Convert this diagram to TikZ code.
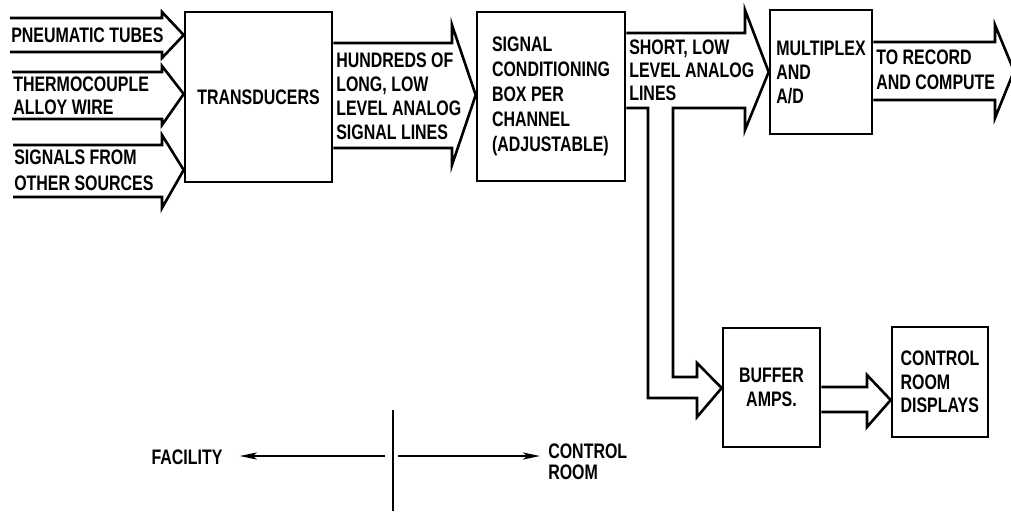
\documentclass[tikz,border=0pt]{standalone}
\usepackage{fontspec}
\setmainfont{Liberation Sans}[FakeStretch=0.76]
\usetikzlibrary{arrows.meta}
\begin{document}
\begin{tikzpicture}[x=1pt,y=-1pt,line width=2.6pt,
  txt/.style={font=\fontsize{21}{24}\selectfont\bfseries},
  box/.style={draw,txt,align=left,inner sep=0pt},
  lbl/.style={txt,align=left,anchor=west,inner sep=0pt},
  arr/.style={-{Stealth[length=17pt,width=7pt,inset=4pt]},line width=2.2pt}]
\useasboundingbox (0,0) rectangle (1011,511);
\clip (0,0) rectangle (1011,511);
% Boxes
\node[box,minimum width=147pt,minimum height=170pt] (trans) at (258.5,97) {TRANSDUCERS};
\node[box,minimum width=148pt,minimum height=169pt,font=\fontsize{21}{25}\selectfont\bfseries] (sig) at (551,96.5) {SIGNAL\\CONDITIONING\\BOX PER\\CHANNEL\\(ADJUSTABLE)};
\node[box,minimum width=102pt,minimum height=124pt] (mux) at (821,72) {MULTIPLEX\\AND\\A/D};
\node[box,minimum width=97pt,minimum height=119pt,align=center] (buf) at (771.5,387.5) {BUFFER\\AMPS.};
\node[box,minimum width=96pt,minimum height=110pt,font=\fontsize{21}{23.5}\selectfont\bfseries] (disp) at (940,382) {CONTROL\\ROOM\\DISPLAYS};
% Input arrows
\draw (10,18) -- (162,18) -- (162,12) -- (trans.west |- 0,35) -- (162,58) -- (162,52) -- (10,52);
\node[lbl] (pneu) at (10,35) {PNEUMATIC TUBES};
\draw (12,72) -- (162,72) -- (162,66) -- (trans.west |- 0,94) -- (162,125) -- (162,119) -- (12,119);
\node[lbl,font=\fontsize{21}{23}\selectfont\bfseries] (thermo) at (12,96) {THERMOCOUPLE\\ALLOY WIRE};
\draw (13,145) -- (162,145) -- (162,135) -- (trans.west |- 0,170) -- (162,208) -- (162,197) -- (13,197);
\node[lbl,font=\fontsize{21}{26}\selectfont\bfseries] (other) at (13,170) {SIGNALS FROM\\OTHER SOURCES};
% Transducers to signal conditioning
\draw (trans.east |- 0,43) -- (452,43) -- (452,25) -- (sig.west |- 0,95) -- (452,165) -- (452,148) -- (trans.east |- 0,148);
\node[lbl] (hund) at (335,96.5) {HUNDREDS OF\\LONG, LOW\\LEVEL ANALOG\\SIGNAL LINES};
% Short lines, with branch to buffer amps
\draw (sig.east |- 0,33) -- (745,33) -- (745,10) -- (mux.west |- 0,72) -- (745,130) -- (745,108)
  -- (673,108) -- (673,377) -- (697,377) -- (697,363) -- (buf.west |- 0,388) -- (697,417) -- (697,398)
  -- (648,398) -- (648,108) -- (sig.east |- 0,108);
\node[lbl,font=\fontsize{21}{23}\selectfont\bfseries] (short) at (628,70) {SHORT, LOW\\LEVEL ANALOG\\LINES};
% To record
\coordinate (rec) at (1014,71);
\draw (mux.east |- 0,42) -- (995,42) -- (995,25) -- (rec) -- (995,118) -- (995,100) -- (mux.east |- 0,100);
\node[lbl,font=\fontsize{21}{25}\selectfont\bfseries] (torec) at (875,69.5) {TO RECORD\\AND COMPUTE};
% Buffer to displays
\draw (buf.east |- 0,387) -- (867,387) -- (867,375) -- (disp.west |- 0,400) -- (867,427) -- (867,412) -- (buf.east |- 0,412);
% Facility / control room divide
\coordinate (divtop) at (393,410);
\coordinate (divbot) at (393,511);
\draw (divtop) -- (divbot);
\coordinate (lineL) at (385,456);
\coordinate (lineR) at (398,456);
\node[txt,inner sep=0pt] (fac) at (187,457) {FACILITY};
\node[lbl,font=\fontsize{21}{21}\selectfont\bfseries] (ctrl) at (547,462) {CONTROL\\ROOM};
\draw[arr,shorten >=16pt] (lineL) -- (fac.east |- lineL);
\draw[arr,shorten >=7pt] (lineR) -- (ctrl.west |- lineR);
\end{tikzpicture}
\end{document}
